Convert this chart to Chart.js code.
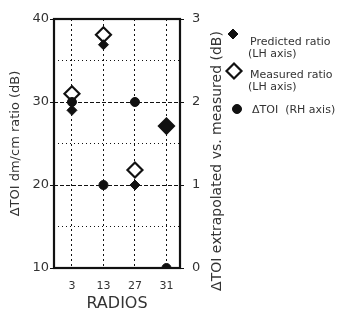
<!DOCTYPE html>
<html>
<head>
<meta charset="utf-8">
<script src="https://cdn.jsdelivr.net/npm/chart.js@4/dist/chart.umd.min.js"></script>
<style>
  html, body { margin: 0; padding: 0; background: #fff; }
</style>
</head>
<body>
<canvas id="radiosChart" width="354" height="323"></canvas>
<script>
// datos
const radios = ["3", "13", "27", "31"];
const predictedRatio = [29.0, 36.9, 20.0, 26.9];   // eje izquierdo
const measuredRatio = [31.0, 38.1, 21.8, 27.1];    // eje izquierdo
const deltaToi = [2.0, 1.0, 2.0, 0.0];             // eje derecho
const leftTicks = [10, 15, 20, 25, 30, 35, 40];
const leftLabels = [10, 20, 30, 40];
const rightTicks = [0, 1, 2, 3];

const FONT = "'DejaVu Sans', sans-serif";
const INK = "#111";
const TXT = "#333";

function points(values) {
  return values.map((v, i) => ({ x: i, y: v }));
}

// marco negro alrededor del área del gráfico
const framePlugin = {
  id: "frame",
  beforeDatasetsDraw(chart) {
    const a = chart.chartArea;
    const ctx = chart.ctx;
    ctx.save();
    ctx.strokeStyle = INK;
    ctx.lineWidth = 2.2;
    ctx.strokeRect(a.left, a.top, a.right - a.left, a.bottom - a.top);
    ctx.restore();
  },
};

// título derecho (se lee de abajo hacia arriba) y leyenda a la derecha
const sidePlugin = {
  id: "side",
  afterDraw(chart) {
    const ctx = chart.ctx;
    ctx.save();
    ctx.fillStyle = TXT;
    ctx.font = "14px " + FONT;
    ctx.textAlign = "center";
    ctx.textBaseline = "middle";
    ctx.translate(217, 161);
    ctx.rotate(-Math.PI / 2);
    ctx.fillText("ΔTOI extrapolated vs. measured (dB)", 0, 0);
    ctx.restore();

    const items = [
      { ds: 0, mx: 233, my: 34, lines: ["Predicted ratio", "(LH axis)"], tx: 250, ty: 42 },
      { ds: 1, mx: 234, my: 71, lines: ["Measured ratio", "(LH axis)"], tx: 250, ty: 75 },
      { ds: 2, mx: 237, my: 109, lines: ["ΔTOI  (RH axis)"], tx: 252, ty: 110 },
    ];
    ctx.save();
    items.forEach(function (it) {
      const ds = chart.data.datasets[it.ds];
      ctx.fillStyle = ds.legendFill;
      ctx.strokeStyle = ds.pointBorderColor;
      ctx.lineWidth = ds.pointBorderWidth;
      Chart.helpers.drawPoint(ctx, {
        pointStyle: ds.pointStyle,
        radius: ds.pointRadius,
        rotation: 0,
        borderWidth: ds.pointBorderWidth,
      }, it.mx, it.my);
      ctx.fillStyle = TXT;
      ctx.font = "11px " + FONT;
      ctx.textAlign = "left";
      ctx.textBaseline = "middle";
      it.lines.forEach(function (t, k) {
        ctx.fillText(t, it.tx - (k ? 2 : 0), it.ty + k * 12);
      });
    });
    ctx.restore();
  },
};

const chart = new Chart(document.getElementById("radiosChart"), {
  type: "scatter",
  data: {
    datasets: [
      {
        label: "Predicted ratio (LH axis)",
        data: points(predictedRatio),
        yAxisID: "y",
        pointStyle: "rectRot",
        pointRadius: 5,
        pointBackgroundColor: INK,
        legendFill: INK,
        pointBorderColor: INK,
        pointBorderWidth: 1,
        order: 1,
      },
      {
        label: "Measured ratio (LH axis)",
        data: points(measuredRatio),
        yAxisID: "y",
        pointStyle: "rectRot",
        pointRadius: 7.5,
        // en 31 los dos rombos se superponen y el símbolo queda relleno
        pointBackgroundColor: ["#fff", "#fff", "#fff", INK],
        legendFill: "#fff",
        pointBorderColor: INK,
        pointBorderWidth: 2.2,
        order: 2,
      },
      {
        label: "ΔTOI (RH axis)",
        data: points(deltaToi),
        yAxisID: "y1",
        pointStyle: "circle",
        pointRadius: 4.5,
        pointBackgroundColor: INK,
        legendFill: INK,
        pointBorderColor: INK,
        pointBorderWidth: 1,
        order: 0,
      },
    ],
  },
  options: {
    responsive: false,
    animation: false,
    events: [],
    layout: { padding: { left: 0, top: 19, right: 132, bottom: 0 } },
    plugins: { legend: { display: false }, tooltip: { enabled: false } },
    scales: {
      x: {
        type: "linear",
        min: -0.57,
        max: 3.43,
        afterBuildTicks: s => { s.ticks = radios.map((_, i) => ({ value: i })); },
        afterFit: s => { s.height = 55; },
        ticks: {
          callback: v => radios[v],
          color: TXT,
          font: { family: FONT, size: 11 },
          padding: 12,
          maxRotation: 0,
        },
        grid: { color: INK, lineWidth: 1, drawTicks: false },
        border: { display: false, dash: [2, 3] },
        title: {
          display: true,
          text: "RADIOS",
          color: TXT,
          font: { family: FONT, size: 16 },
          padding: { top: 2, bottom: 10 },
        },
      },
      y: {
        position: "left",
        min: 10,
        max: 40,
        afterBuildTicks: s => { s.ticks = leftTicks.map(v => ({ value: v })); },
        afterFit: s => { s.width = 54; },
        ticks: {
          callback: v => (leftLabels.includes(v) ? String(v) : ""),
          color: TXT,
          font: { family: FONT, size: 13 },
          padding: 1,
        },
        grid: {
          color: INK,
          lineWidth: 1,
          tickLength: 4,
          tickColor: c => (leftLabels.includes(c.tick.value) ? INK : "rgba(0,0,0,0)"),
        },
        border: {
          display: false,
          dash: c => (c.tick && c.tick.value % 10 === 0 ? [4, 2] : [1, 3]),
        },
        title: {
          display: true,
          text: "ΔTOI dm/cm ratio (dB)",
          color: TXT,
          font: { family: FONT, size: 13 },
          padding: { top: 8, bottom: 2 },
        },
      },
      y1: {
        position: "right",
        min: 0,
        max: 3,
        afterBuildTicks: s => { s.ticks = rightTicks.map(v => ({ value: v })); },
        afterFit: s => { s.width = 42; },
        ticks: {
          color: TXT,
          font: { family: FONT, size: 13 },
          padding: 8,
        },
        grid: { drawOnChartArea: false, color: INK, tickLength: 4 },
        border: { display: false },
      },
    },
  },
  plugins: [framePlugin, sidePlugin],
});
</script>
</body>
</html>
